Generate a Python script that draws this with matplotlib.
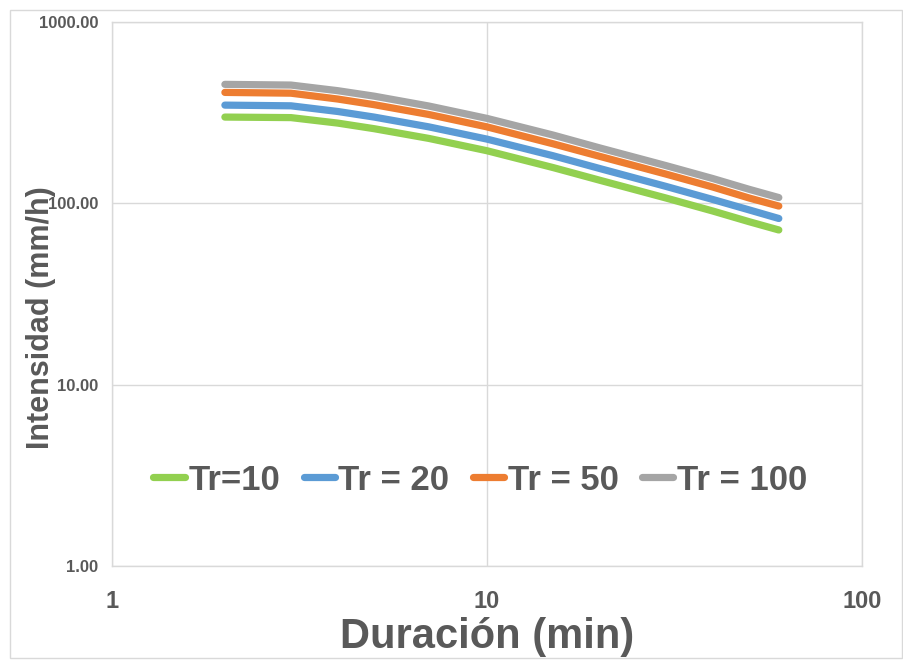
import matplotlib
matplotlib.use("Agg")
import matplotlib.pyplot as plt
from matplotlib.patches import Rectangle
from matplotlib.ticker import FixedLocator, NullLocator, FixedFormatter

plt.rcParams['font.family'] = ['Liberation Sans', 'DejaVu Sans']

durations = [2, 3, 4, 5, 7, 10, 15, 20, 30, 40, 50, 60]
tr10 = [299, 297, 277, 258, 228, 195, 157.5, 134, 107, 90.7, 79.2, 71.3]
tr20 = [348, 345, 321, 299, 264, 226, 183, 155.5, 124, 105, 92, 82.5]
tr50 = [409, 405, 376, 350, 309, 264, 213, 181.5, 145, 123, 107, 96.6]
tr100 = [453, 449, 418, 390, 344, 294, 238, 202, 161.5, 137, 119.5, 107.6]

series_names = ["Tr=10", "Tr = 20", "Tr = 50", "Tr = 100"]
series_vals = [tr10, tr20, tr50, tr100]
colors = ["#92D050", "#5B9BD5", "#ED7D31", "#A5A5A5"]

x_ticks = [1, 10, 100]
x_labels = ["1", "10", "100"]
y_ticks = [1, 10, 100, 1000]
y_labels = ["1.00", "10.00", "100.00", "1000.00"]

txt = "#595959"

fig = plt.figure(figsize=(9.04, 6.62), dpi=100)
fig.patches.append(Rectangle((10/904, 4/662), 892/904, 648/662, transform=fig.transFigure,
                             fill=False, edgecolor="#D9D9D9", linewidth=1))
ax = fig.add_axes([112/904, 1-566/662, (862-112)/904, (566-22)/662])

for name, vals, c in zip(series_names, series_vals, colors):
    ax.plot(durations, vals, color=c, lw=5.2, solid_capstyle='round', solid_joinstyle='round', label=name)

ax.set_xscale('log')
ax.set_yscale('log')
ax.set_xlim(1, 100)
ax.set_ylim(1, 1000)
ax.xaxis.set_major_locator(FixedLocator(x_ticks))
ax.xaxis.set_major_formatter(FixedFormatter(x_labels))
ax.xaxis.set_minor_locator(NullLocator())
ax.yaxis.set_major_locator(FixedLocator(y_ticks))
ax.yaxis.set_major_formatter(FixedFormatter(y_labels))
ax.yaxis.set_minor_locator(NullLocator())

ax.grid(True, which='major', color="#D9D9D9", lw=1)
ax.set_axisbelow(True)
for s in ax.spines.values():
    s.set_color("#D9D9D9")
    s.set_linewidth(1)

ax.tick_params(axis='x', length=0, pad=17, labelsize=17, labelcolor=txt)
ax.tick_params(axis='y', length=0, pad=10, labelsize=12, labelcolor=txt)
for lab in ax.get_xticklabels() + ax.get_yticklabels():
    lab.set_fontweight('bold')

ax.set_xlabel("Duración (min)", fontsize=30, fontweight='bold', color=txt, labelpad=3)
ax.set_ylabel("Intensidad (mm/h)", fontsize=22, fontweight='bold', color=txt)
ax.yaxis.set_label_coords(-0.074, 0.457)

leg = ax.legend(loc='center', bbox_to_anchor=(0.491, 0.158), ncol=4, frameon=False,
                prop={'size': 25, 'weight': 'bold'}, handlelength=0.9, handletextpad=0.1,
                columnspacing=0.68)
for t in leg.get_texts():
    t.set_color(txt)
for h in leg.get_lines():
    h.set_linewidth(5.2)

fig.savefig("out.png", dpi=100)
